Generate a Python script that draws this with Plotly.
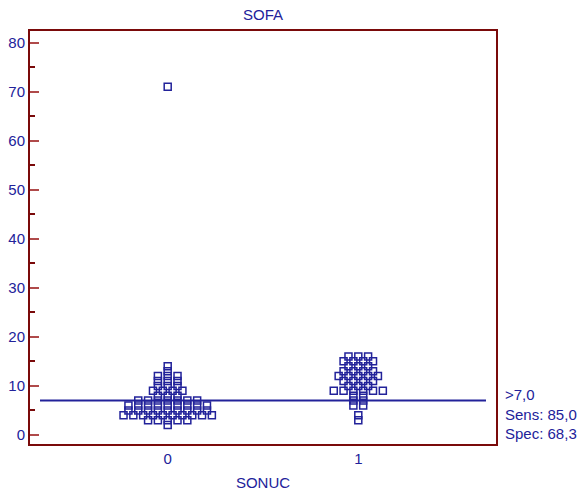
import plotly.graph_objects as go

# SOFA scores per SONUC group, stored as value -> number of patients
group_labels = ["0", "1"]
sofa_values_0 = [2, 3, 4, 5, 6, 7, 8, 9, 10, 11, 12, 13, 14, 71]
sofa_counts_0 = [1, 5, 10, 9, 9, 7, 3, 4, 3, 3, 3, 1, 1, 1]
sofa_values_1 = [3, 4, 6, 7, 8, 9, 10, 11, 12, 13, 14, 15, 16]
sofa_counts_1 = [1, 1, 2, 2, 2, 6, 3, 4, 5, 4, 3, 4, 3]
cutoff = 7.0
y_ticks = [0, 10, 20, 30, 40, 50, 60, 70, 80]

NAVY = "#22229a"
FRAME = "#7a0a0a"
FONT = "Liberation Sans, Arial, sans-serif"
STEP = 0.0515  # horizontal spacing of tied points, in category units


def dot_positions(center, values, counts):
    xs, ys = [], []
    for v, c in zip(values, counts):
        for i in range(c):
            xs.append(center + (i - (c - 1) / 2) * STEP)
            ys.append(v)
    return xs, ys


x0, y0 = dot_positions(0, sofa_values_0, sofa_counts_0)
x1, y1 = dot_positions(1, sofa_values_1, sofa_counts_1)

# sensitivity / specificity of the "> cutoff" criterion
pos = sum(c for v, c in zip(sofa_values_1, sofa_counts_1) if v > cutoff)
sens = 100 * pos / sum(sofa_counts_1)
neg = sum(c for v, c in zip(sofa_values_0, sofa_counts_0) if v <= cutoff)
spec = 100 * neg / sum(sofa_counts_0)


def fmt(v):
    return f"{v:.1f}".replace(".", ",")


fig = go.Figure()
fig.add_trace(go.Scatter(
    x=[-0.67, 1.67], y=[cutoff, cutoff], mode="lines",
    line=dict(color=NAVY, width=2), hoverinfo="skip", showlegend=False))
for xs, ys in ((x0, y0), (x1, y1)):
    fig.add_trace(go.Scatter(
        x=xs, y=ys, mode="markers", showlegend=False,
        marker=dict(symbol="square-open", size=7, color=NAVY,
                    line=dict(color=NAVY, width=1.5))))

fig.add_annotation(
    x=1.015, y=cutoff, xref="paper", yref="y", xanchor="left", yanchor="middle",
    yshift=-13, align="left", showarrow=False,
    text=f">{fmt(cutoff)}<br>Sens: {fmt(sens)}<br>Spec: {fmt(spec)}",
    font=dict(family=FONT, size=15, color=NAVY))

fig.update_layout(
    width=580, height=496,
    margin=dict(l=30, r=84, t=31, b=52),
    paper_bgcolor="white", plot_bgcolor="white",
    font=dict(family=FONT, size=15, color=NAVY),
    title=dict(text="SOFA", x=0.5, xref="paper", y=0.97, yanchor="middle",
               font=dict(family=FONT, size=15, color=NAVY)),
    xaxis=dict(
        range=[-0.7225, 1.7225], tickvals=[0, 1], ticktext=group_labels,
        automargin=False,
        showgrid=False, zeroline=False, ticks="",
        showline=True, mirror=True, linecolor=FRAME, linewidth=2,
        tickfont=dict(family=FONT, size=15, color=NAVY),
        title=dict(text="SONUC", standoff=11,
                   font=dict(family=FONT, size=15, color=NAVY))),
    yaxis=dict(
        range=[-1.85, 82.35], tickvals=y_ticks, automargin=False,
        showgrid=False, zeroline=False,
        ticks="inside", ticklen=9, tickwidth=1.5, tickcolor="#b04a4a",
        minor=dict(dtick=5, ticks="inside", ticklen=5, tickwidth=1.5,
                   tickcolor=FRAME, showgrid=False),
        showline=True, mirror=True, linecolor=FRAME, linewidth=2,
        tickfont=dict(family=FONT, size=15, color=NAVY)),
)

fig.write_html("out.html")
